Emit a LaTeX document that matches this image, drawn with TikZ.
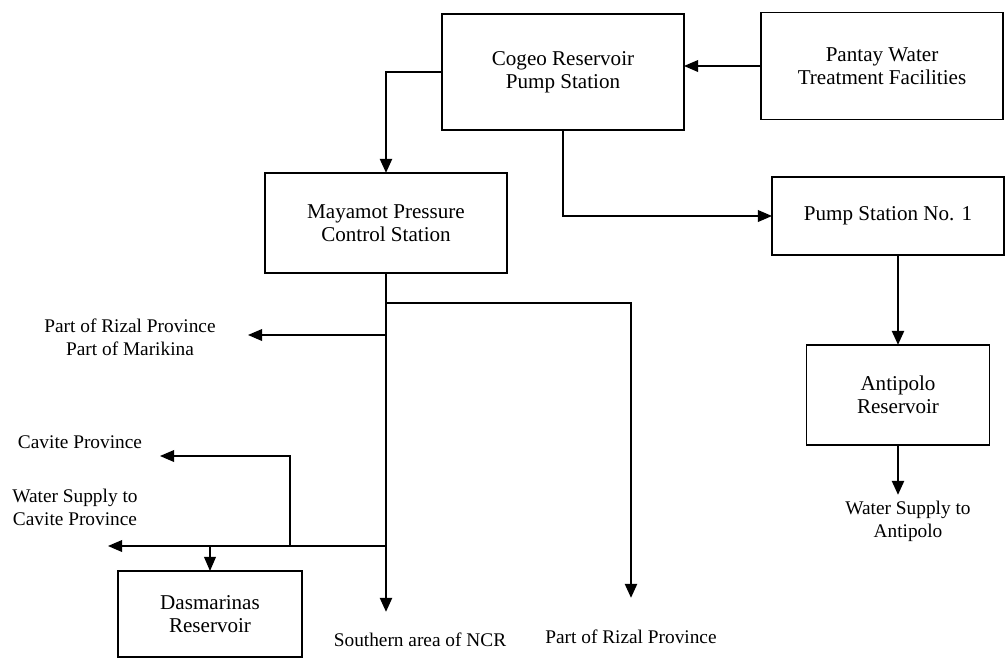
\documentclass[tikz,border=0pt]{standalone}
\usepackage{fontspec}
\setmainfont{Liberation Serif}
\usetikzlibrary{arrows.meta}

\tikzset{
  box/.style={draw, line width=1.2pt, inner sep=0pt, outer sep=0pt, align=center,
    font=\fontsize{18}{20}\selectfont},
  lbl/.style={align=center, inner sep=0pt, font=\fontsize{16.5}{19.5}\selectfont},
  trunk/.style={line width=2.4pt}
}

\begin{document}
\begin{tikzpicture}[x=0.03cm, y=-0.03cm, line width=1.1pt, >={Triangle[length=12pt,width=10pt]}]
			\useasboundingbox (0,0) rectangle (1008,659);
			% boxes
			\node[box, minimum width=7.26cm, minimum height=3.48cm] (cogeo) at (563,72) {Cogeo Reservoir\\Pump Station};
			\node[box, minimum width=7.26cm, minimum height=3.21cm] (pantay) at (882,66) {Pantay Water\\Treatment Facilities};
			\node[box, minimum width=7.26cm, minimum height=3.0cm] (mayamot) at (386,223) {Mayamot Pressure\\Control Station};
			\node[box, minimum width=6.96cm, minimum height=2.34cm] (pump1) at (888,216) {Pump Station No. 1};
			\node[box, minimum width=5.49cm, minimum height=3.0cm] (antipolo) at (898,395) {Antipolo\\Reservoir};
			\node[box, minimum width=5.52cm, minimum height=2.58cm] (dasma) at (210,614) {Dasmarinas\\Reservoir};
			% end labels
			\node[lbl] (marikina) at (130,337) {Part of Rizal Province\\Part of Marikina};
			\node[lbl] (cavite) at (80,442) {Cavite Province};
			\node[lbl] (wscavite) at (75,507) {Water Supply to\\Cavite Province};
			\node[lbl] (southern) at (420,640) {Southern area of NCR};
			\node[lbl] (rizal) at (631,637) {Part of Rizal Province};
			\node[lbl] (wsanti) at (908,521) {Water Supply to\\Antipolo};
			% junctions and arrow ends
			\coordinate (jrizal) at (386,303);
			\coordinate (rizaltip) at (631,598);
			\coordinate (jmar) at (386,335);
			\coordinate (martip) at (248,335);
			\coordinate (jcav) at (386,546);
			\coordinate (wstip) at (108,546);
			\coordinate (jup) at (290,546);
			\coordinate (cavtip) at (160,456);
			\coordinate (jdas) at (210,546);
			\coordinate (sncr) at (386,612);
			\coordinate (antitip) at (898,495);
			% arrows
			\draw [->] (pantay.west) -- (pantay.west -| cogeo.east);
			\draw [->, trunk] (cogeo.west) -| (mayamot.north);
			\draw [->] (cogeo.south) |- (pump1.west);
			\draw [->, trunk] (antipolo.north |- pump1.south) -- (antipolo.north);
			\draw [->, trunk] (antipolo.south) -- (antitip);
			\draw [->, trunk] (mayamot.south) -- (sncr);
			\draw [->, trunk] (jrizal) -| (rizaltip);
			\draw [->] (jmar) -- (martip);
			\draw [->] (jcav) -- (wstip);
			\draw [->] (jup) |- (cavtip);
			\draw [->] (jdas) -- (dasma.north);
		\end{tikzpicture}
\end{document}
